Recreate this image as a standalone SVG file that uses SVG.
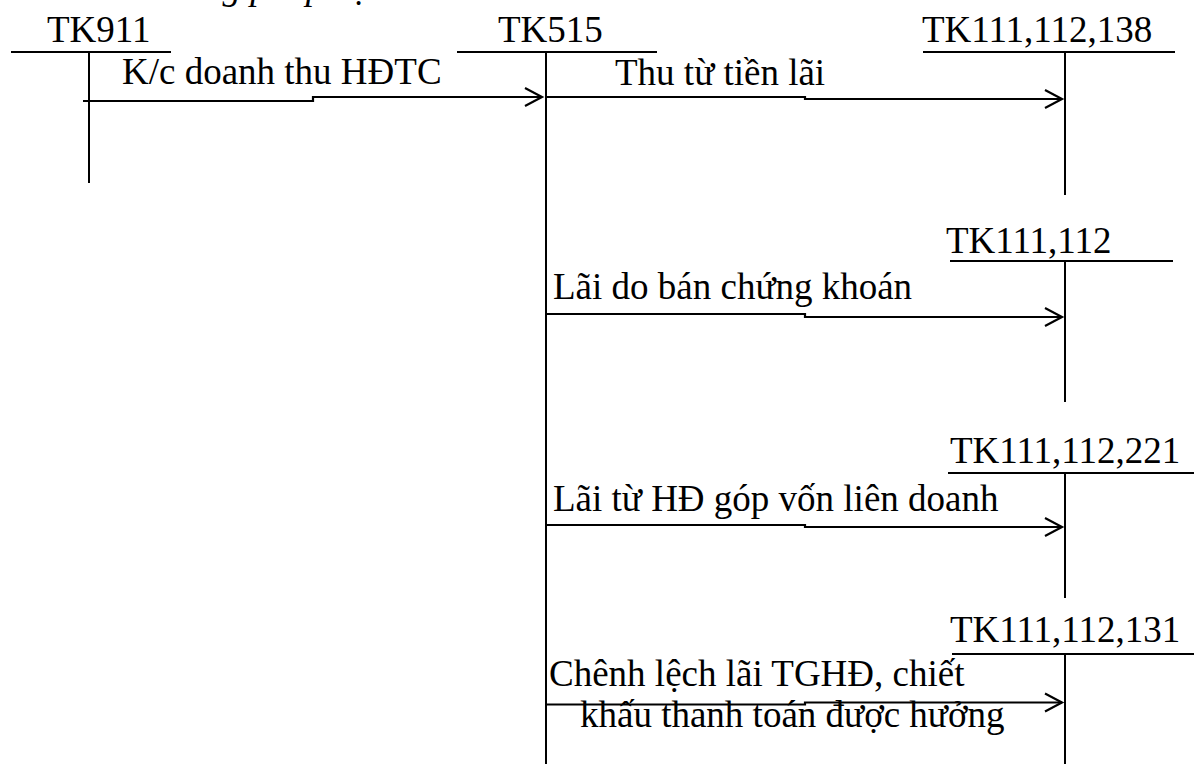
<svg xmlns="http://www.w3.org/2000/svg" width="1194" height="764" viewBox="0 0 1194 764">
<style>
text{font-family:"Liberation Serif","Times New Roman",serif;font-size:37px;fill:#000}
.ln{stroke:#000;stroke-width:2;fill:none}
.ar{stroke:#000;stroke-width:2.2;fill:none;marker-end:url(#ah)}
.title{font-style:italic}
</style>
<defs>
<marker id="ah" markerUnits="userSpaceOnUse" markerWidth="20" markerHeight="22" refX="17" refY="10" orient="auto" overflow="visible">
<path d="M0,1 L17,10 L0,19" fill="none" stroke="#000" stroke-width="2.2"/>
</marker>
</defs>
<rect width="1194" height="764" fill="#fff"/>
<text class="title" x="123" y="-1">Phương pháp hạch toán:</text>
<g id="tk911">
<text x="47" y="42">TK911</text>
<path class="ln" d="M11,52 H171 M89,52 V183"/>
</g>
<g id="tk515">
<text x="498" y="42">TK515</text>
<path class="ln" d="M457,52 H657 M546,52 V764"/>
</g>
<g id="tk111_112_138">
<text x="922" y="42">TK111,112,138</text>
<path class="ln" d="M923,52 H1175 M1065,52 V195"/>
</g>
<g id="tk111_112">
<text x="946" y="253">TK111,112</text>
<path class="ln" d="M950,261 H1173 M1065,261 V402"/>
</g>
<g id="tk111_112_221">
<text x="950" y="463">TK111,112,221</text>
<path class="ln" d="M948,473 H1194 M1065,473 V598"/>
</g>
<g id="tk111_112_131">
<text x="950" y="642">TK111,112,131</text>
<path class="ln" d="M952,654 H1194 M1065,654 V764"/>
</g>
<g id="connectors">
<path class="ar" d="M83,101 H313 V97 H542"/>
<text x="122" y="84">K/c doanh thu HĐTC</text>
<path class="ar" d="M546,97 H805 V99 H1062"/>
<text x="615" y="85">Thu từ tiền lãi</text>
<path class="ar" d="M546,314 H805 V317 H1062"/>
<text x="553" y="299">Lãi do bán chứng khoán</text>
<path class="ar" d="M546,525 H805 V527 H1062"/>
<text x="553" y="511">Lãi từ HĐ góp vốn liên doanh</text>
<path class="ar" d="M546,704.5 H805 V702.5 H1062"/>
<text x="549" y="686">Chênh lệch lãi TGHĐ, chiết</text>
<text x="580" y="727">khấu thanh toán được hưởng</text>
</g>
</svg>
